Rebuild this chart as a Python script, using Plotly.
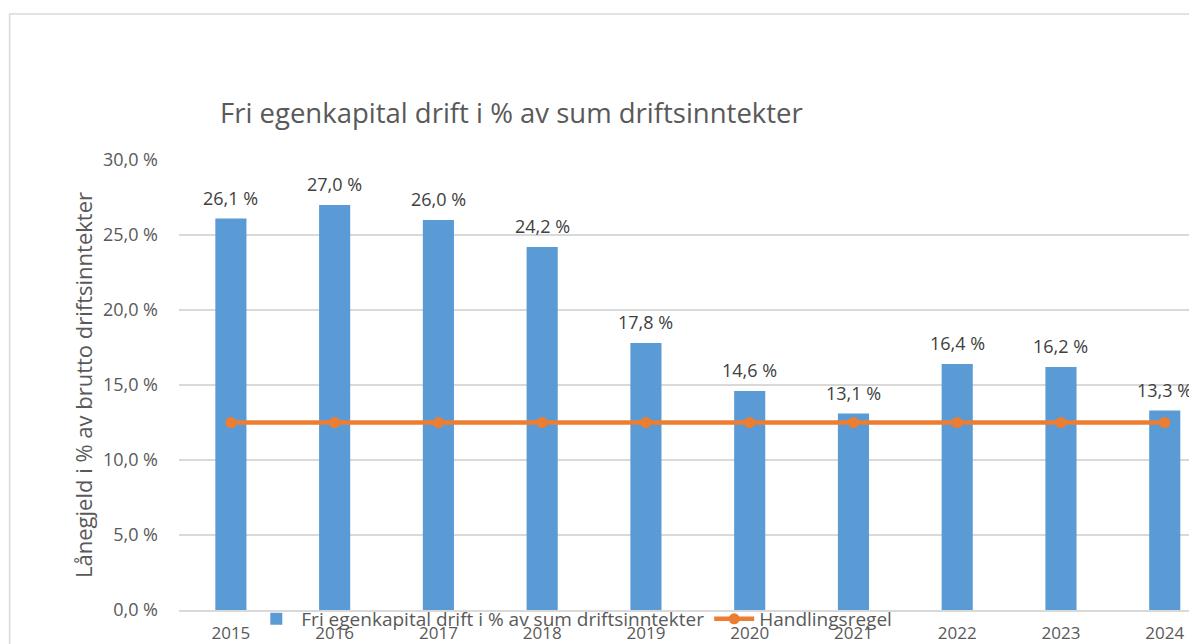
import plotly.graph_objects as go

years = ["2015", "2016", "2017", "2018", "2019", "2020", "2021", "2022", "2023", "2024"]
fri_egenkapital = [26.1, 27.0, 26.0, 24.2, 17.8, 14.6, 13.1, 16.4, 16.2, 13.3]
handlingsregel = [12.5, 12.5, 12.5, 12.5, 12.5, 12.5, 12.5, 12.5, 12.5, 12.5]
y_ticks = [0, 5, 10, 15, 20, 25, 30]
y_ticktext = ["0,0 %", "5,0 %", "10,0 %", "15,0 %", "20,0 %", "25,0 %", "30,0 %"]

FONT = "Open Sans"
GRAY = "#595959"
OFF = 8  # page body margin

fig = go.Figure()
fig.add_trace(go.Bar(
    x=years, y=fri_egenkapital,
    name="Fri egenkapital drift i % av sum driftsinntekter",
    marker=dict(color="#5B9BD5", line=dict(width=0)),
    width=0.3,
))
fig.add_trace(go.Scatter(
    x=years, y=handlingsregel, name="Handlingsregel",
    mode="lines+markers",
    line=dict(color="#ED7D31", width=4.5),
    marker=dict(color="#ED7D31", size=11),
))

labels = [f"{v:.1f}".replace(".", ",") + " %" for v in fri_egenkapital]
for i, (v, t) in enumerate(zip(fri_egenkapital, labels)):
    fig.add_annotation(
        x=i, y=v, xref="x", yref="y", text=t,
        showarrow=False, yanchor="bottom", yshift=7,
        font=dict(family=FONT, size=18, color="#404040"),
    )

W, H = 1197, 644
l, r, t, b = 178.5 - OFF, 0, 160 - OFF, H - (610 - OFF)
pw, ph = W - l - r, H - t - b

def px2paper(x, y):
    return (x - OFF - l) / pw, (H - b - (y - OFF)) / ph

bx0, by0 = px2paper(9, 14)
fig.add_shape(type="rect", xref="paper", yref="paper",
              x0=bx0, x1=1.2, y0=by0, y1=-0.5,
              line=dict(color="#D9D9D9", width=1.5), layer="below")

fig.update_layout(
    width=W, height=H,
    margin=dict(l=l, r=r, t=t, b=b, pad=0),
    paper_bgcolor="white", plot_bgcolor="white",
    font=dict(family=FONT, color=GRAY),
    title=dict(text="Fri egenkapital drift i % av sum driftsinntekter",
               x=(220 - OFF) / W, xanchor="left", xref="container",
               y=1 - (113 - OFF) / H, yanchor="middle", yref="container",
               font=dict(family=FONT, size=27.5, color=GRAY)),
    showlegend=True,
    legend=dict(orientation="h", x=px2paper(574, 0)[0], xanchor="center",
                y=px2paper(0, 619)[1], yanchor="middle",
                bgcolor="rgba(0,0,0,0)", font=dict(family=FONT, size=19, color=GRAY),
                itemwidth=40, tracegroupgap=0, traceorder="normal"),
    bargap=0.7,
)
fig.update_xaxes(
    type="category", range=[-0.5, 9.388],
    showgrid=False, showline=True, linecolor="#D9D9D9", linewidth=1.5,
    ticks="", tickfont=dict(family=FONT, size=17, color=GRAY),
    ticklabelstandoff=7,
)
fig.update_yaxes(
    range=[0, 30], tickvals=y_ticks, ticktext=y_ticktext,
    showgrid=True, gridcolor="#D9D9D9", gridwidth=1.5, zeroline=False,
    tickfont=dict(family=FONT, size=18, color=GRAY),
    ticklabelstandoff=20,
    title=dict(text="Lånegjeld i % av brutto driftsinntekter", standoff=4,
               font=dict(family=FONT, size=22, color=GRAY)),
)

fig.write_html("out.html")
